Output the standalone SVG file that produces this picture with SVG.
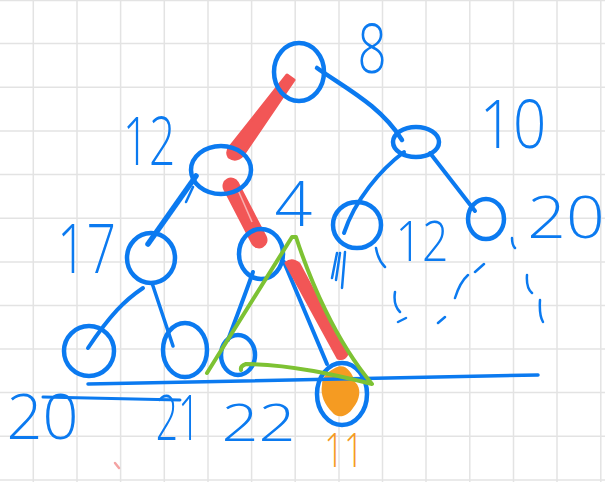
<svg xmlns="http://www.w3.org/2000/svg" width="605" height="482" viewBox="0 0 605 482">
<style>
.grid{stroke:#e3e3e3;stroke-width:1.5;fill:none}
.b{stroke:#0b7af0;fill:none;stroke-linecap:round;stroke-linejoin:round}
.node{stroke:#0b7af0;fill:none;stroke-width:4.5}
.lbl{font-family:"Open Sans","Liberation Sans",Arial,sans-serif;font-weight:300;fill:#0b7af0;text-anchor:middle}
.red{fill:#f25656;stroke:#f25656;stroke-linejoin:round;stroke-linecap:round}
.frag{stroke:#0b7af0;fill:none;stroke-width:2.5;stroke-linecap:round}
</style>
<rect width="605" height="482" fill="#ffffff"/>
<g id="grid">
<path class="grid" d="M33.3 0V482M77 0V482M120.6 0V482M164.3 0V482M208 0V482M251.6 0V482M295.2 0V482M339 0V482M382.5 0V482M426 0V482M469.8 0V482M513.5 0V482M557 0V482M600.8 0V482"/>
<path class="grid" d="M0 0.5H605M0 43.6H605M0 87.3H605M0 131H605M0 174.6H605M0 218.3H605M0 262H605M0 305.6H605M0 349H605M0 392.6H605M0 436.3H605M0 480H605"/>
</g>
<g id="connectors">
<path class="b" stroke-width="4.5" d="M317 68 C345 88, 380 105, 402 140"/>
<path class="b" stroke-width="4" d="M404 152 C380 170, 355 200, 344 233"/>
<path class="b" stroke-width="4" d="M430 153 L475 211"/>
<path class="b" stroke-width="5.5" d="M196 176 L148 244"/>
<path class="b" stroke-width="2.5" d="M193 187 L186 202"/>
<path class="b" stroke-width="4" d="M143 288 C125 300, 110 315, 88 348"/>
<path class="b" stroke-width="3.5" d="M152 283 L173 346"/>
<path class="b" stroke-width="4" d="M253 272 C245 295, 236 318, 228 340"/>
<path class="b" stroke-width="4" d="M284 262 L327 364"/>
<path class="red" stroke-width="3" d="M287 75 L294 80 L243 155 Q236 162 229 157 Q226 152 230 147 Z"/>
<path class="red" stroke-width="17" d="M231 186 L259 240"/>
<path stroke="#f9b0b0" stroke-width="1.5" fill="none" d="M238 190 L252 222"/>
<path class="red" stroke-width="3" d="M286 263 Q292 258 299 264 L347 354 Q344 360 338 358 Z"/>
</g>
<g id="n8">
<ellipse class="node" stroke-width="5" cx="299" cy="72" rx="25" ry="29"/>
<text class="lbl" font-size="68" transform="translate(372,73) scale(0.75,1)">8</text>
</g>
<g id="n12">
<ellipse class="node" cx="221" cy="170" rx="30" ry="24"/>
<text class="lbl" font-size="66" transform="translate(149,165) scale(0.7,1)">12</text>
</g>
<g id="n10">
<ellipse class="node" cx="416" cy="142" rx="23" ry="15"/>
<text class="lbl" font-size="67" transform="translate(513,148) scale(0.87,1)">10</text>
</g>
<g id="n17">
<ellipse class="node" cx="151" cy="258" rx="24" ry="25"/>
<text class="lbl" font-size="68" transform="translate(86.5,273) scale(0.76,1)">17</text>
</g>
<g id="n4">
<ellipse class="node" cx="261" cy="254" rx="22" ry="25"/>
<text class="lbl" font-size="63" transform="translate(293.5,226) scale(1.05,1)">4</text>
</g>
<g id="n12b">
<ellipse class="node" cx="357" cy="225" rx="24" ry="23"/>
<text class="lbl" font-size="56" transform="translate(422,261) scale(0.83,1)">12</text>
</g>
<g id="n20b">
<ellipse class="node" cx="486" cy="219" rx="18" ry="20"/>
<text class="lbl" font-size="59" transform="translate(566,238) scale(1.15,1)">20</text>
</g>
<g id="n20a">
<ellipse class="node" cx="89" cy="351" rx="25" ry="25"/>
<text class="lbl" font-size="63" transform="translate(42.5,439)">20</text>
</g>
<g id="n21">
<ellipse class="node" cx="185" cy="350" rx="22" ry="27"/>
<text class="lbl" font-size="63" transform="translate(178,440) scale(0.62,1)">21</text>
</g>
<g id="n22">
<ellipse class="node" cx="238" cy="355" rx="17" ry="20"/>
<text class="lbl" font-size="52" transform="translate(258.5,441) scale(1.25,1)">22</text>
</g>
<g id="n11">
<ellipse class="node" cx="342" cy="394" rx="25" ry="31"/>
<path fill="#f59b22" d="M335 368 C345 362, 352 372, 355 382 C362 388, 360 400, 353 408 C348 416, 338 420, 332 412 C325 405, 320 395, 322 385 C322 376, 328 372, 335 368 Z"/>
<text class="lbl" font-size="48" style="fill:#f59b22" transform="translate(344,467) scale(0.72,1)">11</text>
</g>
<g id="marks">
<path class="b" stroke-width="3.5" d="M88 384 C200 383, 350 378, 538 375"/>
<path class="b" stroke-width="3" d="M43 397 L180 400"/>
<path fill="none" stroke="#7dc233" stroke-width="4" stroke-linecap="round" stroke-linejoin="round" d="M207 373 L292 237 L296 237 C310 280, 335 340, 372 384 C340 376, 290 364, 246 364 Q240 366 241 370"/>
<path class="frag" d="M337 253 L332 278M340 253 L336 280M345 252 L342 288M376 248 Q378 260 385 267M512 238 Q512 245 515 248M484 264 L475 272M468 275 Q460 282 455 298M527 275 Q526 288 532 293M540 300 Q539 315 543 322M395 292 Q393 305 400 312M398 322 L406 318M438 323 L445 317"/>
<path stroke="#f4a3a3" stroke-width="2.5" stroke-linecap="round" d="M115 463 L119 468"/>
</g>
</svg>
